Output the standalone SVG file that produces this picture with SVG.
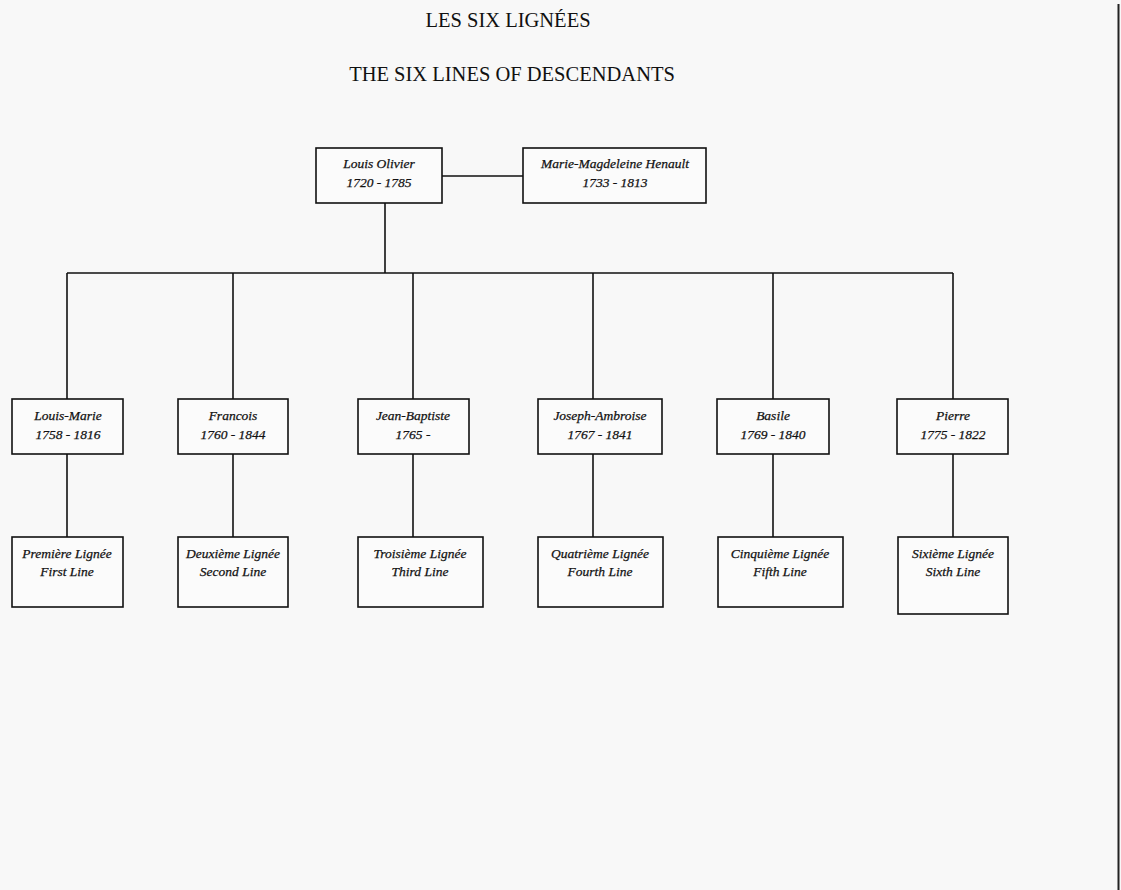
<svg xmlns="http://www.w3.org/2000/svg" width="1121" height="890" viewBox="0 0 1121 890">
<style>
.bg{fill:#f8f8f8}
.box{fill:#fbfbfb;stroke:#111;stroke-width:1.6}
.ln{stroke:#111;stroke-width:1.6;fill:none}
.t{font-family:"Liberation Serif","Times New Roman",serif;font-style:italic;font-size:13.5px;fill:#111;stroke:#111;stroke-width:0.25;text-anchor:middle}
.title{font-family:"Liberation Serif","Times New Roman",serif;font-size:20.5px;fill:#111;text-anchor:middle}
</style>
<rect class="bg" x="0" y="0" width="1121" height="890"/>
<line x1="1118.5" y1="4" x2="1118.5" y2="890" stroke="#222" stroke-width="2"/>
<text class="title" x="508" y="27">LES SIX LIGNÉES</text>
<text class="title" x="512" y="81">THE SIX LINES OF DESCENDANTS</text>
<g id="connectors">
<line class="ln" x1="442" y1="176" x2="523" y2="176"/>
<line class="ln" x1="385" y1="203" x2="385" y2="273"/>
<line class="ln" x1="67" y1="273" x2="953" y2="273"/>
<line class="ln" x1="67" y1="273" x2="67" y2="399"/>
<line class="ln" x1="233" y1="273" x2="233" y2="399"/>
<line class="ln" x1="413" y1="273" x2="413" y2="399"/>
<line class="ln" x1="593" y1="273" x2="593" y2="399"/>
<line class="ln" x1="773" y1="273" x2="773" y2="399"/>
<line class="ln" x1="953" y1="273" x2="953" y2="399"/>
<line class="ln" x1="67" y1="454" x2="67" y2="537"/>
<line class="ln" x1="233" y1="454" x2="233" y2="537"/>
<line class="ln" x1="413" y1="454" x2="413" y2="537"/>
<line class="ln" x1="593" y1="454" x2="593" y2="537"/>
<line class="ln" x1="773" y1="454" x2="773" y2="537"/>
<line class="ln" x1="953" y1="454" x2="953" y2="537"/>
</g>
<g id="louis-olivier"><rect class="box" x="316" y="148" width="126" height="55"/><text class="t" x="379" y="168">Louis Olivier</text><text class="t" x="379" y="187">1720 - 1785</text></g>
<g id="marie-magdeleine"><rect class="box" x="523" y="148" width="183" height="55"/><text class="t" x="615" y="168">Marie-Magdeleine Henault</text><text class="t" x="615" y="187">1733 - 1813</text></g>
<g id="louis-marie"><rect class="box" x="12" y="399" width="111" height="55"/><text class="t" x="68" y="420">Louis-Marie</text><text class="t" x="68" y="439">1758 - 1816</text></g>
<g id="francois"><rect class="box" x="178" y="399" width="110" height="55"/><text class="t" x="233" y="420">Francois</text><text class="t" x="233" y="439">1760 - 1844</text></g>
<g id="jean-baptiste"><rect class="box" x="358" y="399" width="111" height="55"/><text class="t" x="413" y="420">Jean-Baptiste</text><text class="t" x="413" y="439">1765 -</text></g>
<g id="joseph-ambroise"><rect class="box" x="538" y="399" width="124" height="55"/><text class="t" x="600" y="420">Joseph-Ambroise</text><text class="t" x="600" y="439">1767 - 1841</text></g>
<g id="basile"><rect class="box" x="717" y="399" width="112" height="55"/><text class="t" x="773" y="420">Basile</text><text class="t" x="773" y="439">1769 - 1840</text></g>
<g id="pierre"><rect class="box" x="897" y="399" width="111" height="55"/><text class="t" x="953" y="420">Pierre</text><text class="t" x="953" y="439">1775 - 1822</text></g>
<g id="premiere"><rect class="box" x="12" y="537" width="111" height="70"/><text class="t" x="67" y="558">Première Lignée</text><text class="t" x="67" y="576">First Line</text></g>
<g id="deuxieme"><rect class="box" x="178" y="537" width="110" height="70"/><text class="t" x="233" y="558">Deuxième Lignée</text><text class="t" x="233" y="576">Second Line</text></g>
<g id="troisieme"><rect class="box" x="358" y="537" width="125" height="70"/><text class="t" x="420" y="558">Troisième Lignée</text><text class="t" x="420" y="576">Third Line</text></g>
<g id="quatrieme"><rect class="box" x="538" y="537" width="125" height="70"/><text class="t" x="600" y="558">Quatrième Lignée</text><text class="t" x="600" y="576">Fourth Line</text></g>
<g id="cinquieme"><rect class="box" x="718" y="537" width="125" height="70"/><text class="t" x="780" y="558">Cinquième Lignée</text><text class="t" x="780" y="576">Fifth Line</text></g>
<g id="sixieme"><rect class="box" x="898" y="537" width="110" height="77"/><text class="t" x="953" y="558">Sixième Lignée</text><text class="t" x="953" y="576">Sixth Line</text></g>
</svg>
